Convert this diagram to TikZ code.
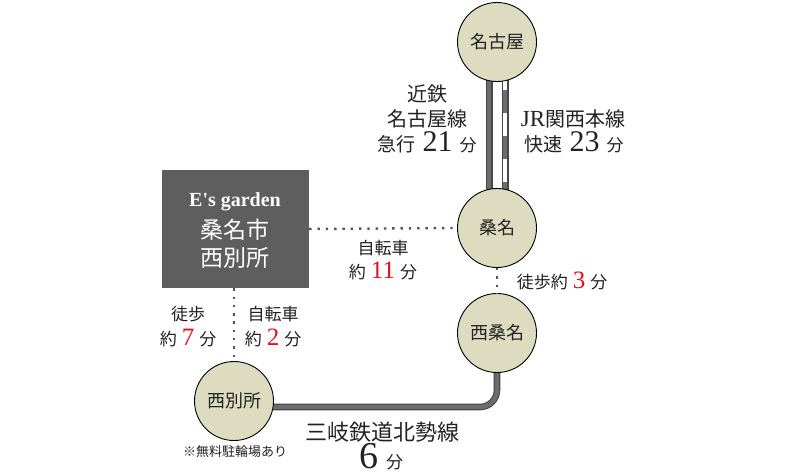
\documentclass[tikz,border=0pt]{standalone}
\usepackage{fontspec}
\setmainfont{Liberation Serif}
\newfontfamily\jpfont{Noto Sans CJK JP}
\newfontfamily\garfont{Liberation Serif}
\usetikzlibrary{backgrounds}
\definecolor{stfill}{HTML}{DDDCC1}
\definecolor{boxgray}{HTML}{5F5E5E}
\definecolor{railgray}{HTML}{6C6C6C}
\definecolor{railedge}{HTML}{474747}
\definecolor{dotgray}{HTML}{555555}
\definecolor{numred}{HTML}{E50F1E}
\definecolor{txt}{HTML}{222222}
\newcommand{\jsz}[1]{\jpfont\fontsize{#1}{#1}\selectfont}
\newcommand{\rednum}[2][25]{\hspace{5pt}{\rmfamily\fontsize{#1}{#1}\selectfont\color{numred}#2}\hspace{5pt}}
\newcommand{\blknum}[2][30]{\hspace{7pt}\smash{\rmfamily\fontsize{#1}{#1}\selectfont #2}\hspace{7pt}}
\begin{document}
\begin{tikzpicture}[x=1pt,y=-1pt,
  station/.style={circle, draw=black, line width=0.9pt, fill=stfill, minimum size=79pt, inner sep=0pt, text=txt, font=\jsz{18}},
  dotline/.style={draw=dotgray, line width=2.4pt, dash pattern=on 2.4pt off 5.9pt},
  lbl/.style={anchor=base, text=txt, inner sep=0pt},
  boxtxt/.style={anchor=base, text=white, inner sep=0pt},
  railout/.style={draw=railedge, line width=7pt},
  railin/.style={draw=railgray, line width=4.6pt},
  railwhite/.style={draw=white, line width=4.6pt},
  raildash/.style={draw=railgray, line width=4.6pt, dash pattern=on 23pt off 23pt, dash phase=44pt}]
\useasboundingbox (0,0) rectangle (800,472);

% stations
\node[station] (nagoya) at (497,42) {名古屋};
\node[station] (kuwana) at (497,228) {桑名};
\node[station] (nishikuwana) at (497,333) {西桑名};
\node[station] (nishibessho) at (234,401) {西別所};

% E's garden box
\node[fill=boxgray, minimum width=147pt, minimum height=118pt, inner sep=0pt] (garden) at (235.5,229) {};
\node[boxtxt] (gname) at (235,206) {\garfont\bfseries\fontsize{20}{20}\selectfont E's garden};
\node[boxtxt] (gcity) at (235,238) {\jsz{23}桑名市};
\node[boxtxt] (gtown) at (235,266) {\jsz{23}西別所};

% rails (behind)
\begin{scope}[on background layer]
  \fill[white] (0,0) rectangle (800,472);
  \draw[railout] ([xshift=-8pt]nagoya.center) -- ([xshift=-8pt]kuwana.center);
  \draw[railin] ([xshift=-8pt]nagoya.center) -- ([xshift=-8pt]kuwana.center);
  \draw[railout] ([xshift=8pt]nagoya.center) -- ([xshift=8pt]kuwana.center);
  \draw[railwhite] ([xshift=8pt]nagoya.center) -- ([xshift=8pt]kuwana.center);
  \draw[raildash] ([xshift=8pt]nagoya.center) -- ([xshift=8pt]kuwana.center);
  \draw[railout, line width=6.6pt, rounded corners=17pt] ([yshift=-6pt]nishibessho.center) -| (nishikuwana.center);
  \draw[railin, line width=4.4pt, rounded corners=17pt] ([yshift=-6pt]nishibessho.center) -| (nishikuwana.center);
\end{scope}

% dotted connectors
\draw[dotline] (garden.east) -- (kuwana.west);
\draw[dotline] (garden.south -| nishibessho.north) -- (nishibessho.north);
\draw[dotline] (kuwana.south) -- (nishikuwana.north);

% labels
\node[lbl] (kin1) at (427,101) {\jsz{20}近鉄};
\node[lbl] (kin2) at (427,126) {\jsz{20}名古屋線};
\node[lbl] (kin3) at (427,151) {\jsz{19}急行\blknum{21}\jsz{17}分};
\node[lbl] (jr1) at (573,126) {{\fontsize{23}{23}\selectfont JR}\jsz{20}関西本線};
\node[lbl] (jr2) at (574,151) {\jsz{19}快速\blknum{23}\jsz{17}分};

\node[lbl] (bike1) at (383,254) {\jsz{17}自転車};
\node[lbl] (bike2) at (383,278) {\jsz{17}約\rednum{11}分};
\node[lbl] (walk1) at (188,320.5) {\jsz{17}徒歩};
\node[lbl] (walk2) at (188,345) {\jsz{17}約\rednum{7}分};
\node[lbl] (bike3) at (273,320.5) {\jsz{17}自転車};
\node[lbl] (bike4) at (273,345) {\jsz{17}約\rednum{2}分};
\node[lbl] (walk3) at (562,288) {\jsz{17}徒歩約\rednum{3}分};

\node[lbl] (hok1) at (382,440) {\jsz{22}三岐鉄道北勢線};
\node[lbl] (hok2) at (381,468) {\smash{\fontsize{38}{38}\selectfont 6}\hspace{8pt}\jsz{17}分};
\node[lbl] (park) at (235,456) {\jsz{13}※無料駐輪場あり};
\end{tikzpicture}
\end{document}
